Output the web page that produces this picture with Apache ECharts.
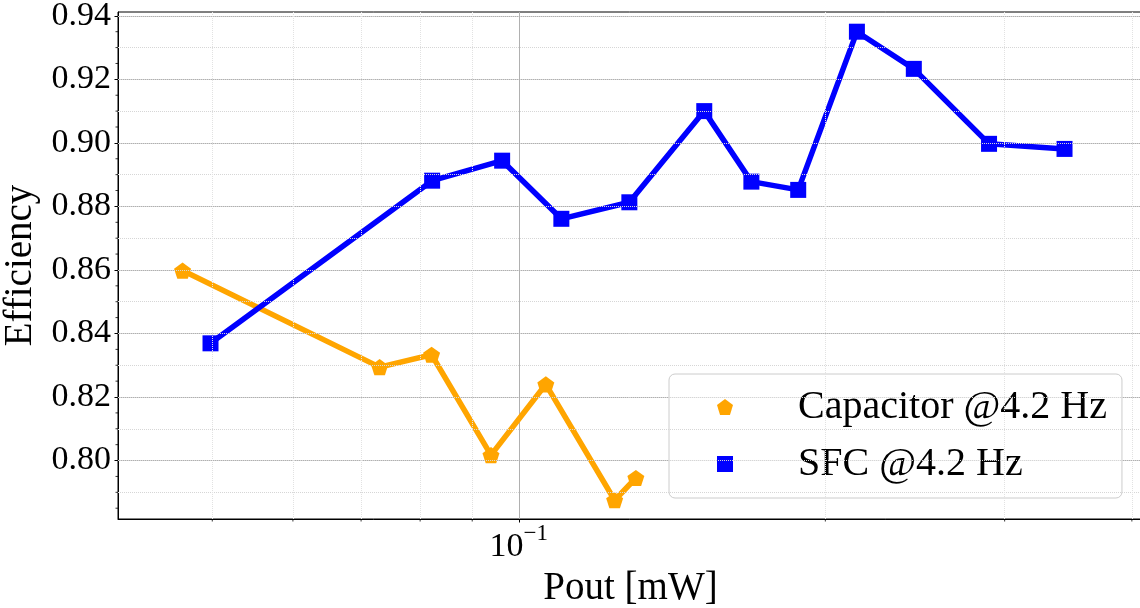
<!DOCTYPE html>
<html><head><meta charset="utf-8">
<script src="https://cdn.jsdelivr.net/npm/echarts@6/dist/echarts.min.js"></script>
<style>html,body{margin:0;padding:0;background:#fff}#c{width:1140px;height:608px}</style>
</head><body><div id="c"></div>
<script>
// ---- data ----
const seriesNames = ['Capacitor @4.2 Hz', 'SFC @4.2 Hz'];
const capX = [0.04675, 0.0730, 0.0821, 0.0939, 0.1063, 0.1242, 0.1303];
const capY = [0.8598, 0.8294, 0.8333, 0.8017, 0.8240, 0.7875, 0.7945];
const sfcX = [0.0498, 0.0822, 0.0963, 0.1101, 0.1284, 0.1521, 0.1692, 0.1881, 0.2148, 0.2443, 0.2896, 0.3435];
const sfcY = [0.8369, 0.8881, 0.8944, 0.8761, 0.8813, 0.9100, 0.8878, 0.8852, 0.9350, 0.9233, 0.8997, 0.8981];
const xRange = [0.0404, 0.4102];
const yRange = [0.7816, 0.9412];
const xMajorTicks = [0.1];
const xMinorTicks = [0.05, 0.06, 0.07, 0.08, 0.09, 0.2, 0.3, 0.4];
const yMajorTicks = [0.80, 0.82, 0.84, 0.86, 0.88, 0.90, 0.92, 0.94];
const yMinorTicks = [0.785, 0.790, 0.795, 0.805, 0.810, 0.815, 0.825, 0.830, 0.835, 0.845, 0.850, 0.855,
  0.865, 0.870, 0.875, 0.885, 0.890, 0.895, 0.905, 0.910, 0.915, 0.925, 0.930, 0.935];

const FONT = 'Liberation Serif';
const pentagon = 'path://M0,-1 L0.951,-0.309 L0.588,0.809 L-0.588,0.809 L-0.951,-0.309 Z';

const chart = echarts.init(document.getElementById('c'), null, {renderer: 'canvas'});
chart.setOption({
  animation: false,
  backgroundColor: '#ffffff',
  grid: {left: 118, top: 12, right: -3, bottom: 89, show: true, borderColor: '#000', borderWidth: 1,
    containLabel: false, outerBoundsMode: 'none'},
  xAxis: {
    type: 'log', logBase: 10, min: xRange[0], max: xRange[1],
    axisLine: {show: true, lineStyle: {color: '#000', width: 1}},
    axisTick: {show: true, length: 3.5, customValues: xMajorTicks, lineStyle: {color: '#000', width: 1}},
    minorTick: {show: false},
    axisLabel: {
      customValues: xMajorTicks, margin: 3,
      formatter: function (v) {
        const e = Math.round(Math.log10(v));
        return '{b|10}{s|' + String(e).replace('-', '\u2212') + '}';
      },
      rich: {
        b: {fontFamily: FONT, fontSize: 34, color: '#000', lineHeight: 50},
        s: {fontFamily: FONT, fontSize: 23, color: '#000', lineHeight: 23, verticalAlign: 'top'}
      }
    },
    splitLine: {show: true, lineStyle: {color: '#b0b0b0', width: 1}},
    name: 'Pout [mW]', nameLocation: 'middle', nameGap: 40,
    nameTextStyle: {fontFamily: FONT, fontSize: 39, color: '#000'}
  },
  yAxis: {
    type: 'value', min: yRange[0], max: yRange[1], splitNumber: 8,
    axisLine: {show: true, lineStyle: {color: '#000', width: 1}},
    axisTick: {show: true, length: 3.5, customValues: yMajorTicks, lineStyle: {color: '#000', width: 1}},
    minorTick: {show: false},
    axisLabel: {
      customValues: yMajorTicks, margin: 7,
      formatter: v => v.toFixed(2),
      fontFamily: FONT, fontSize: 34, color: '#000'
    },
    splitLine: {show: true, lineStyle: {color: '#b0b0b0', width: 1}},
    name: 'Efficiency', nameLocation: 'middle', nameGap: 68,
    nameTextStyle: {fontFamily: FONT, fontSize: 39, color: '#000'}
  },
  legend: {
    show: true, data: seriesNames, orient: 'vertical', left: 669, top: 374,
    padding: [13, 15, 14, 40], itemWidth: 30, itemHeight: 20, itemGap: 17,
    backgroundColor: 'rgba(255,255,255,0.8)', borderColor: '#cccccc', borderWidth: 1, borderRadius: 6,
    lineStyle: {opacity: 0}, selectedMode: false,
    formatter: '{t|{name}}',
    textStyle: {fontFamily: FONT, fontSize: 40, color: '#000',
      rich: {t: {fontFamily: FONT, fontSize: 40, color: '#000', lineHeight: 40, padding: [0, 0, 0, 53]}}}
  },
  series: [
    {
      name: 'yMinor', type: 'scatter', silent: true, clip: false, z: 1,
      data: yMinorTicks.map(v => [xRange[0], v]),
      symbol: 'rect', symbolSize: [2.5, 1], symbolOffset: [-1.25, 0],
      itemStyle: {color: '#000'},
      markLine: {silent: true, symbol: ['none', 'none'], label: {show: false},
        lineStyle: {type: 'dotted', color: '#d6d6d6', width: 1},
        data: yMinorTicks.map(v => ({yAxis: v}))}
    },
    {
      name: 'xMinor', type: 'scatter', silent: true, clip: false, z: 1,
      data: xMinorTicks.map(v => [v, yRange[0]]),
      symbol: 'rect', symbolSize: [1, 2.5], symbolOffset: [0, 1.25],
      itemStyle: {color: '#000'},
      markLine: {silent: true, symbol: ['none', 'none'], label: {show: false},
        lineStyle: {type: 'dotted', color: '#e2e2e2', width: 1},
        data: xMinorTicks.map(v => ({xAxis: v}))}
    },
    {
      name: seriesNames[0], type: 'line', z: 3,
      data: capX.map((x, i) => [x, capY[i]]),
      symbol: pentagon, symbolSize: 17, symbolKeepAspect: true,
      color: '#FFA500', itemStyle: {color: '#FFA500'},
      lineStyle: {color: '#FFA500', width: 5.5}
    },
    {
      name: seriesNames[1], type: 'line', z: 4,
      data: sfcX.map((x, i) => [x, sfcY[i]]),
      symbol: 'rect', symbolSize: 16,
      color: '#0000FF', itemStyle: {color: '#0000FF'},
      lineStyle: {color: '#0000FF', width: 5.5}
    }
  ]
});
</script></body></html>
